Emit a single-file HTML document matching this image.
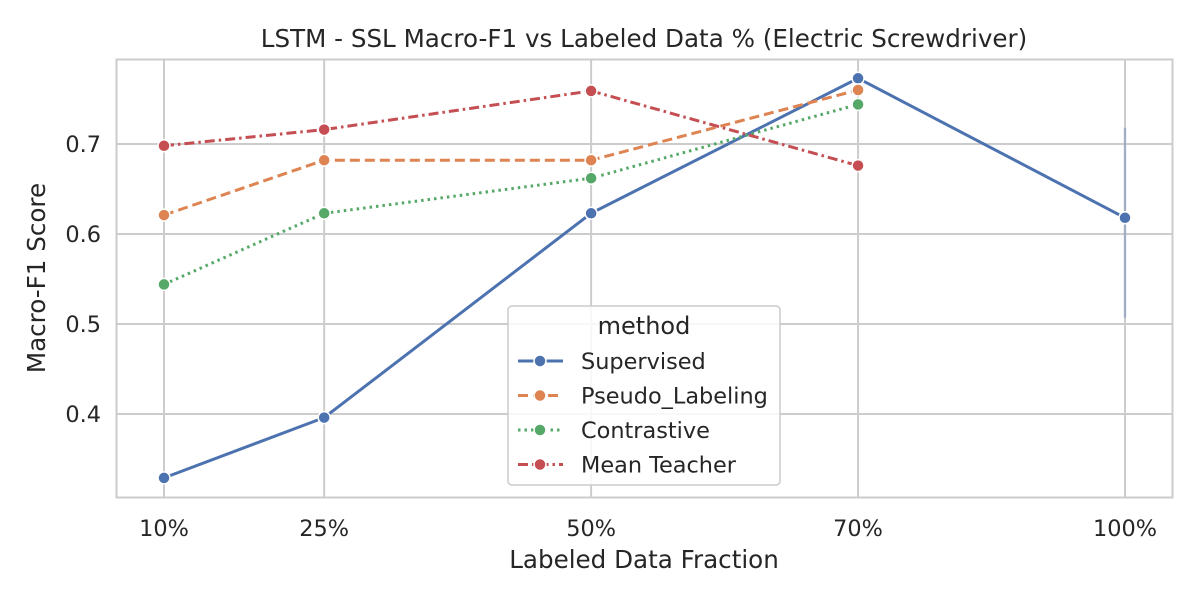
<!DOCTYPE html>
<html><head><meta charset="utf-8"><style>
body{margin:0;background:#fff;font-family:"Liberation Sans","DejaVu Sans",sans-serif;}
svg text{font-family:"DejaVu Sans","Liberation Sans",sans-serif;fill:#262626;}
</style></head><body>
<svg id="chart" width="1200" height="600">
<rect x="0" y="0" width="1200" height="600" fill="#fff"/>
<g id="grid"></g>
<rect x="116.5" y="59.5" width="1056" height="438" fill="none" stroke="#cccccc" stroke-width="2"/>
<text x="644" y="47" text-anchor="middle" font-size="24.6">LSTM - SSL Macro-F1 vs Labeled Data % (Electric Screwdriver)</text>
<text x="644" y="568" text-anchor="middle" font-size="24.6">Labeled Data Fraction</text>
<text transform="translate(45,278) rotate(-90)" text-anchor="middle" font-size="24.6">Macro-F1 Score</text>
<g id="series"></g>
<g id="legend"></g>
</svg>
<script>
const xCats=[10,25,50,75,100];
const xLabels=["10%","25%","50%","70%","100%"];
const yTicks=[0.4,0.5,0.6,0.7];
const supervised=[0.329,0.396,0.623,0.773,0.618];
const pseudo=[0.621,0.682,0.682,0.760,null];
const contrastive=[0.544,0.623,0.662,0.744,null];
const meanTeacher=[0.698,0.716,0.759,0.676,null];
const errLow=[null,null,null,null,0.507];
const errHigh=[null,null,null,null,0.718];
const names=["Supervised","Pseudo_Labeling","Contrastive","Mean Teacher"];
const NS="http://www.w3.org/2000/svg";
function X(v){return 164+(v-10)*(961/90);}
function Y(v){return 144+(0.7-v)*900;}
function mk(tag,attrs,parent){const e=document.createElementNS(NS,tag);for(const k in attrs)e.setAttribute(k,attrs[k]);parent.appendChild(e);return e;}
const grid=document.getElementById('grid');
xCats.forEach((c,i)=>{
  const l=mk('line',{x1:X(c),x2:X(c),y1:59,y2:497,stroke:'#cccccc','stroke-width':2},grid);
  
  
  const t=mk('text',{x:X(c),y:536,'text-anchor':'middle','font-size':22.4},grid);
  t.textContent=xLabels[i];
  
  
});
yTicks.forEach(v=>{
  const l=mk('line',{x1:116,x2:1173,y1:Y(v),y2:Y(v),stroke:'#cccccc','stroke-width':2},grid);
  
  
  const t=mk('text',{x:101,y:Y(v)+8,'text-anchor':'end','font-size':22.4},grid);
  t.textContent=v.toFixed(1);
  
  
});
const sg=document.getElementById('series');
const colors=["#4c72b0","#dd8452","#55a868","#c44e52"];
const dashes=["","10,5","2.5,4","10,4,2.5,4"];
const data=[supervised,pseudo,contrastive,meanTeacher];
xCats.forEach((c,i)=>{
  if(errLow[i]!=null){
    const e=mk('line',{x1:X(c),x2:X(c),y1:Y(errHigh[i]),y2:Y(errLow[i]),stroke:'#4c72b0','stroke-opacity':0.35,'stroke-width':2.5},sg);
    
    
  }
});
data.forEach((s,k)=>{
  const pts=[];s.forEach((v,i)=>{if(v!=null)pts.push([X(xCats[i]),Y(v)]);});
  const p=mk('polyline',{points:pts.map(p=>p.join(',')).join(' '),fill:'none',stroke:colors[k],'stroke-width':3,'stroke-dasharray':dashes[k]},sg);
  
  
  pts.forEach(q=>{
    const c=mk('circle',{cx:q[0],cy:q[1],r:6,fill:colors[k],stroke:'#fff','stroke-width':1.5},sg);
    
    
  });
});
const lg=document.getElementById('legend');
const box=mk('rect',{x:508,y:306,width:272,height:179,rx:4,fill:'#fff','fill-opacity':0.85,stroke:'#cccccc','stroke-width':1.5},lg);


const lt=mk('text',{x:644,y:334,'text-anchor':'middle','font-size':24},lg);
lt.textContent='method';


names.forEach((n,k)=>{
  const y=361+k*34.5;
  const l=mk('line',{x1:518,x2:563,y1:y,y2:y,stroke:colors[k],'stroke-width':3,'stroke-dasharray':dashes[k]},lg);
  
  
  const c=mk('circle',{cx:540,cy:y,r:6,fill:colors[k],stroke:'#fff','stroke-width':1.5},lg);
  
  
  const t=mk('text',{x:581,y:y+8,'font-size':22.4},lg);
  t.textContent=n;
  
  
});
</script>
</body></html>
